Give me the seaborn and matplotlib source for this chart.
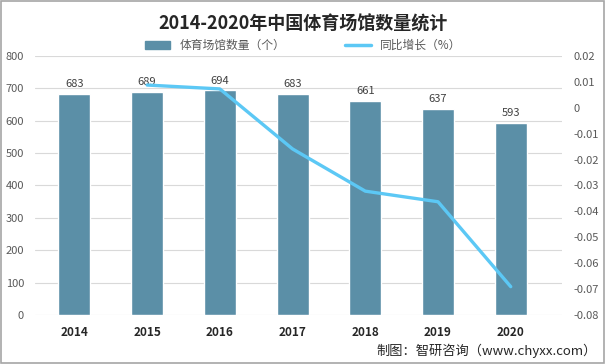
import numpy as np
import pandas as pd
import matplotlib
matplotlib.use('Agg')
import matplotlib.pyplot as plt
import seaborn as sns
from matplotlib.lines import Line2D
from matplotlib.patches import Patch

years = ['2014', '2015', '2016', '2017', '2018', '2019', '2020']
counts = [683, 689, 694, 683, 661, 637, 593]
growth_years = ['2015', '2016', '2017', '2018', '2019', '2020']
growth = [0.0088, 0.0073, -0.0159, -0.0322, -0.0363, -0.0691]

sns.set_style('white')
plt.rcParams['font.family'] = ['Noto Sans CJK SC', 'DejaVu Sans']

bar_color = '#5B8FA7'
line_color = '#5CC8F5'
tick_color = '#595959'

df = pd.DataFrame({'year': years, 'count': counts})

fig = plt.figure(figsize=(6.06, 3.64), dpi=100)
ax = fig.add_axes([0.058, 0.135, 0.870, 0.711])

sns.barplot(data=df, x='year', y='count', color=bar_color, width=0.44,
            saturation=1, ax=ax, zorder=2)
ax.set_ylim(0, 800)
ax.set_yticks(range(0, 801, 100))
ax.grid(axis='y', color='#D9D9D9', linewidth=0.8, zorder=0)
ax.set_axisbelow(True)
ax.set_xlabel('')
ax.set_ylabel('')
for s in ax.spines.values():
    s.set_visible(False)
ax.tick_params(axis='y', colors=tick_color, labelsize=8, length=0, pad=8)
ax.tick_params(axis='x', length=0, labelsize=8.5, pad=8)
for lab in ax.get_xticklabels():
    lab.set_fontweight('bold')
    lab.set_color('#262626')
for i, v in enumerate(counts):
    ax.text(i, v + 14, str(v), ha='center', va='bottom', fontsize=8, color='#404040')

ax2 = ax.twinx()
xpos = [years.index(y) for y in growth_years]
sns.lineplot(x=xpos, y=growth, color=line_color, linewidth=2.4, ax=ax2)
ax2.set_ylim(-0.08, 0.02)
ax2.set_yticks(np.linspace(-0.08, 0.02, 11))
ax2.set_yticklabels(['-0.08', '-0.07', '-0.06', '-0.05', '-0.04', '-0.03',
                     '-0.02', '-0.01', '0', '0.01', '0.02'])
ax2.tick_params(axis='y', colors=tick_color, labelsize=8, length=0, pad=8)
for s in ax2.spines.values():
    s.set_visible(False)
ax.set_xlim(-0.54, 6.71)

fig.text(0.5, 0.935, '2014-2020年中国体育场馆数量统计', ha='center', va='center',
         fontsize=13, fontweight='bold', color='#262626')
handles = [Patch(color=bar_color, label='体育场馆数量（个）'),
           Line2D([0], [0], color=line_color, linewidth=2.5, label='同比增长（%）')]
fig.legend(handles=handles, loc='center', bbox_to_anchor=(0.5, 0.875), ncol=2,
           frameon=False, fontsize=8.5, labelcolor='#595959', handlelength=2.2,
           handleheight=0.6, columnspacing=5)
fig.text(0.985, 0.035, '制图：智研咨询（www.chyxx.com）', ha='right', va='center',
         fontsize=9.5, color='#262626')
fig.patches.append(plt.Rectangle((0.002, 0.003), 0.995, 0.994, transform=fig.transFigure,
                                 fill=False, edgecolor='#A6A6A6', linewidth=1.2))

fig.savefig('out.png', dpi=100)
